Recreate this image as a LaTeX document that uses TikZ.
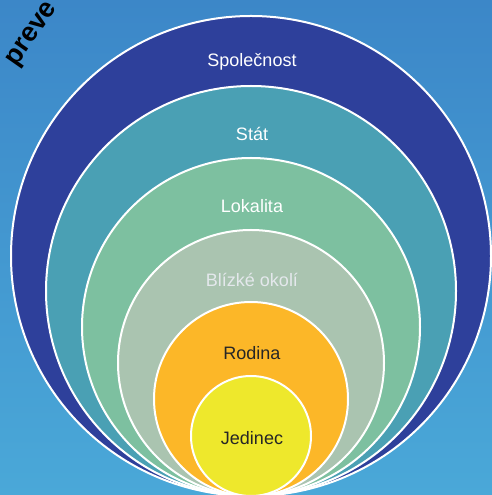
\documentclass[tikz,border=0pt]{standalone}
\usepackage{fontspec}
\setmainfont{Liberation Sans}
\usetikzlibrary{positioning}
\definecolor{bgTop}  {RGB}{ 60,135,200}
\definecolor{bgBot}  {RGB}{ 74,168,216}
\definecolor{ringSpol}{RGB}{ 46, 64,155}
\definecolor{ringStat}{RGB}{ 74,160,180}
\definecolor{ringLok} {RGB}{125,192,160}
\definecolor{ringBliz}{RGB}{170,196,176}
\definecolor{ringRod} {RGB}{252,183, 40}
\definecolor{ringJed} {RGB}{238,232, 44}
\definecolor{lblPale} {RGB}{228,232,236}

\begin{document}
\begin{tikzpicture}[x=1pt,y=1pt,
  every node/.style={font=\fontsize{18}{20}\selectfont},
  ring/.style={draw=white,line width=2pt},
  lightlbl/.style={text=white},
  paletbl/.style={text=lblPale},
  darklbl/.style={text=black!85}
]
% background
\clip (0,0) rectangle (492,495);
\shade[top color=bgTop,bottom color=bgBot] (0,0) rectangle (492,495);
% heading, cut off by the frame
\node[font=\fontsize{27}{29}\selectfont\bfseries,rotate=55] (title) at (33,460) {preve};
% rings, all touching at the bottom
\filldraw[ring,fill=ringSpol] (251,239) circle (240);
\filldraw[ring,fill=ringStat] (251,204) circle (205);
\filldraw[ring,fill=ringLok]  (251,168) circle (169);
\filldraw[ring,fill=ringBliz] (251,132) circle (133);
\filldraw[ring,fill=ringRod]  (251, 96) circle (97);
\filldraw[ring,fill=ringJed]  (251, 59) circle (60);
% labels
\node[lightlbl] (spol) at (252,433) {Společnost};
\node[lightlbl] (stat) at (252,361) {Stát};
\node[lightlbl] (lok)  at (252,289) {Lokalita};
\node[paletbl]  (bliz) at (252,215) {Blízké okolí};
\node[darklbl]  (rod)  at (252,142) {Rodina};
\node[darklbl]  (jed)  at (252, 57) {Jedinec};
\end{tikzpicture}
\end{document}
